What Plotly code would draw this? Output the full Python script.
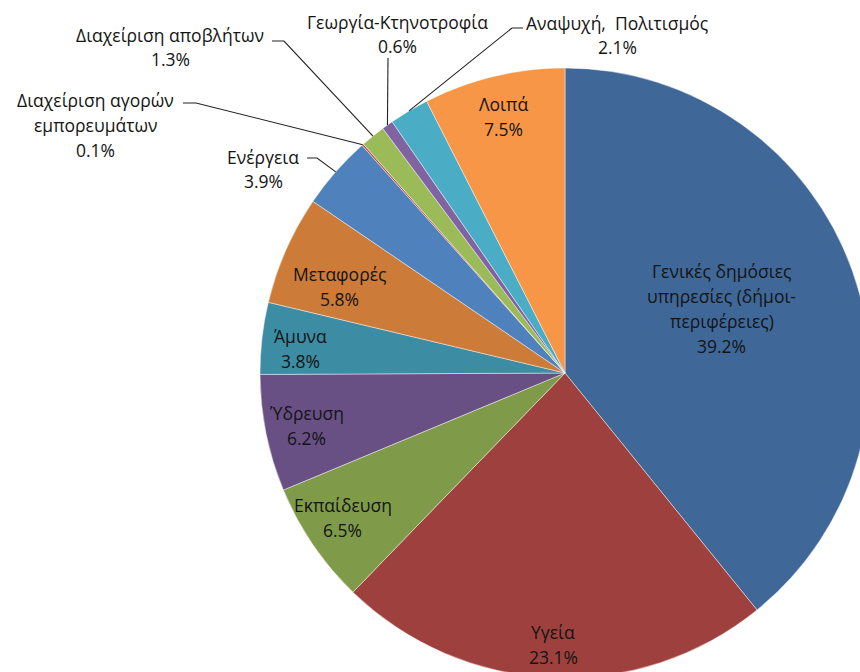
import math
import plotly.graph_objects as go

# ---------------- data ----------------
categories = [
    "Γενικές δημόσιες υπηρεσίες (δήμοι-περιφέρειες)",
    "Υγεία",
    "Εκπαίδευση",
    "Ύδρευση",
    "Άμυνα",
    "Μεταφορές",
    "Ενέργεια",
    "Διαχείριση αγορών εμπορευμάτων",
    "Διαχείριση αποβλήτων",
    "Γεωργία-Κτηνοτροφία",
    "Αναψυχή,  Πολιτισμός",
    "Λοιπά",
]
values = [39.2, 23.1, 6.5, 6.2, 3.8, 5.8, 3.9, 0.1, 1.3, 0.6, 2.1, 7.5]
label_lines = [
    ["Γενικές δημόσιες", "υπηρεσίες (δήμοι-", "περιφέρειες)"],
    ["Υγεία"],
    ["Εκπαίδευση"],
    ["Ύδρευση"],
    ["Άμυνα"],
    ["Μεταφορές"],
    ["Ενέργεια"],
    ["Διαχείριση αγορών", "εμπορευμάτων"],
    ["Διαχείριση αποβλήτων"],
    ["Γεωργία-Κτηνοτροφία"],
    ["Αναψυχή,  Πολιτισμός"],
    ["Λοιπά"],
]

# ---------------- style ----------------
colors = ["#3F6899", "#9E413E", "#7F9A48", "#685085", "#3C8DA3", "#CC7B38",
          "#4F81BD", "#C0504D", "#9BBB59", "#8064A2", "#4BACC6", "#F79646"]
W, H = 880, 690            # figure a bit larger than window -> pie clipped like reference
CX, CY, R = 565, 373, 305  # pie centre / radius in pixels
FONT = "Open Sans"
FS = 17.5
LINE_H = 25
# inside labels: radial factor (None -> outside label) and angular nudge (deg)
inside_factor = [0.556, 0.89, 0.868, 0.865, 0.872, 0.79, None, None, None, None, None, 0.865]
angle_nudge = [-2.7, 0, 1.3, 0, -1.2, -2.9, 0, 0, 0, 0, 0, 0]
# outside labels: block centre and leader-line start/elbow (pixels)
outside_center = {6: (263, 169), 7: (95, 125), 8: (170, 47), 9: (397, 34), 10: (617, 35)}
outside_leader = {
    6: [(307, 158), (317, 158)],
    7: [(183, 103), (196, 103)],
    8: [(272, 41), (284, 41)],
    9: [(388, 58)],
    10: [(523, 28), (512, 28)],
}


def px(x):
    return x / W


def py(y):
    return 1 - y / H


total = sum(values)
cum = 0.0
mid_angles = []
for v in values:
    mid_angles.append((cum + v / 2) / total * 360.0)
    cum += v

fig = go.Figure(go.Pie(
    values=values,
    labels=categories,
    sort=False,
    direction="clockwise",
    rotation=0,
    textinfo="none",
    hoverinfo="label+percent",
    marker=dict(colors=colors, line=dict(color="rgba(255,255,255,0.55)", width=0.8)),
    domain=dict(x=[px(CX - R), px(CX + R)], y=[py(CY + R), py(CY - R)]),
    showlegend=False,
))

annotations = []
shapes = []
for i, (lines, v) in enumerate(zip(label_lines, values)):
    all_lines = lines + [f"{v:.1f}%"]
    if inside_factor[i] is not None:
        a = math.radians(mid_angles[i] + angle_nudge[i])
        rr = inside_factor[i] * R
        cx = CX + rr * math.sin(a)
        cy = CY - rr * math.cos(a)
    else:
        a = math.radians(mid_angles[i])
        cx, cy = outside_center[i]
        ex = CX + R * math.sin(a)
        ey = CY - R * math.cos(a)
        pts = outside_leader[i] + [(ex, ey)]
        path = "M " + " L ".join(f"{px(x):.5f},{py(y):.5f}" for x, y in pts)
        shapes.append(dict(type="path", xref="paper", yref="paper", path=path,
                           line=dict(color="#222222", width=1.1)))
    n = len(all_lines)
    for j, t in enumerate(all_lines):
        ly = cy + (j - (n - 1) / 2) * LINE_H
        annotations.append(dict(
            x=px(cx), y=py(ly), xref="paper", yref="paper", text=t,
            showarrow=False, xanchor="center", yanchor="middle",
            font=dict(family=FONT, size=FS, color="#141414"),
        ))

fig.update_layout(
    width=W, height=H,
    margin=dict(l=0, r=0, t=0, b=0),
    paper_bgcolor="white",
    plot_bgcolor="white",
    annotations=annotations,
    shapes=shapes,
)

fig.write_html(
    "out.html",
    config={"displayModeBar": False},
    post_script="document.body.style.margin='0';document.body.style.overflow='hidden';"
                "document.documentElement.style.overflow='hidden';",
)
